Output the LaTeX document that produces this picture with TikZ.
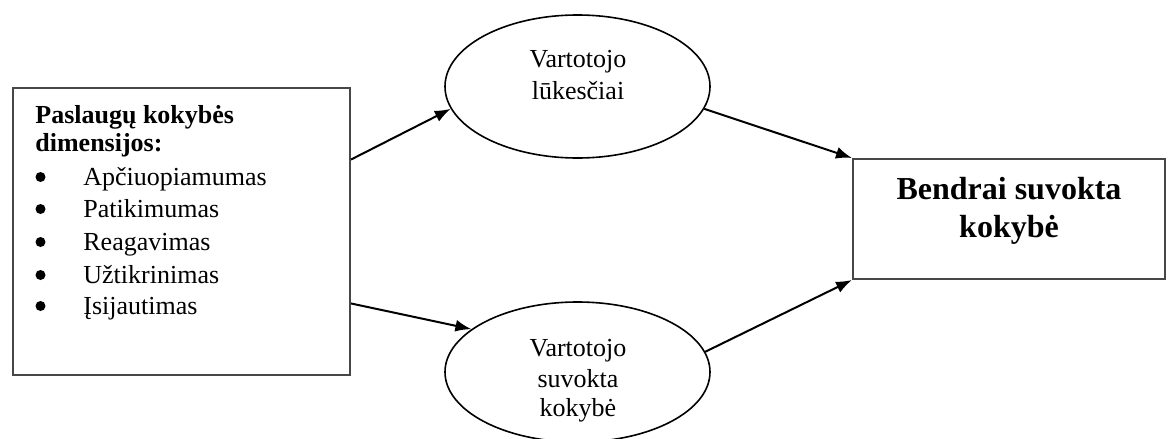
\documentclass[tikz,border=0pt]{standalone}
\usepackage{fontspec}
\setmainfont{Liberation Serif}
\usetikzlibrary{shapes.geometric,arrows.meta}
\begin{document}
\begin{tikzpicture}[x=0.5pt,y=-0.5pt,
  box/.style={draw=black!72,line width=1pt,rectangle,inner sep=0pt},
  oval/.style={draw=black,line width=0.8pt,ellipse,inner sep=0pt},
  txt/.style={inner sep=0pt,anchor=base,font=\fontsize{13}{15}\selectfont},
  lft/.style={inner sep=0pt,anchor=base west,font=\fontsize{13}{15}\selectfont},
  hdr/.style={lft,font=\fontsize{13}{15}\selectfont\bfseries},
  dot/.style={circle,fill=black,inner sep=0pt,minimum size=5pt},
  big/.style={inner sep=0pt,anchor=base,font=\fontsize{16}{18}\selectfont\bfseries},
  arr/.style={line width=1pt,-{Latex[length=8pt,width=6pt]}}
]
\useasboundingbox (0,0) rectangle (1168,439);

% input box with the list of dimensions
\node[box,minimum width=168.5pt,minimum height=143.5pt] (dims) at (181.5,231.5) {};
\node[hdr] (h1) at (35,123) {Paslaugų kokybės};
\node[hdr] (h2) at (35,151) {dimensijos:};
\foreach \i/\y/\t in {1/185/Apčiuopiamumas,2/217/Patikimumas,3/250/Reagavimas,4/283/Užtikrinimas,5/314/Įsijautimas}{
  \node[dot] (b\i) at (40.5,\y-8) {};
  \node[lft] (it\i) at (83,\y) {\t};
}

% expectations
\node[oval,minimum width=132.5pt,minimum height=71.5pt] (exp) at (577.5,86.5) {};
\node[txt] (e1) at (578,67) {Vartotojo};
\node[txt] (e2) at (578,99) {lūkesčiai};

% perceived quality
\node[oval,minimum width=132.5pt,minimum height=70pt] (per) at (577.5,372) {};
\node[txt] (p1) at (578,356) {Vartotojo};
\node[txt] (p2) at (578,387) {suvokta};
\node[txt] (p3) at (578,416) {kokybė};

% overall result
\node[box,minimum width=156pt,minimum height=60pt] (res) at (1009,219) {};
\node[big] (r1) at (1009,199) {Bendrai suvokta};
\node[big] (r2) at (1009,237) {kokybė};

% connectors
\draw[arr] (dims.23.85) -- (exp.190);
\draw[arr] (dims.-23) -- (per.158);
\draw[arr] (exp.-10.2) -- (res.north west);
\draw[arr] (per.9.6) -- (res.south west);
\end{tikzpicture}
\end{document}
